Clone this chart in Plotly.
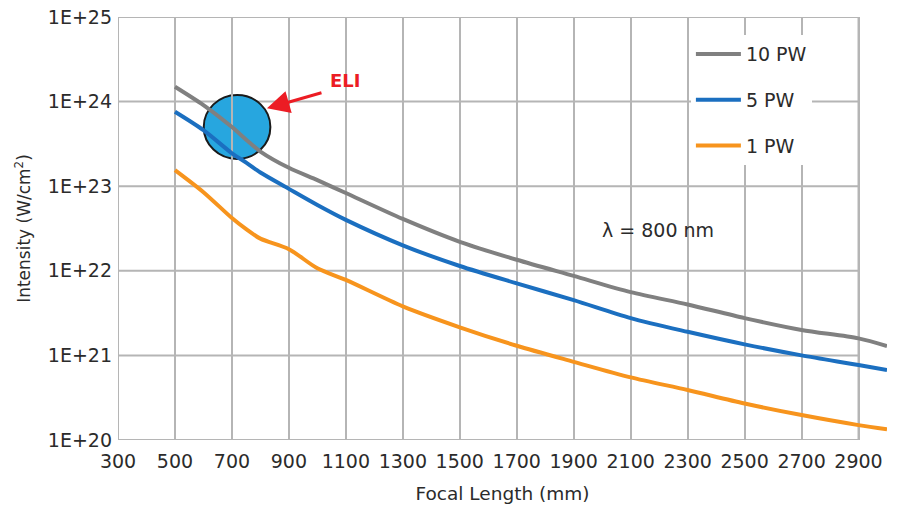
import plotly.graph_objects as go

# ---------------- data ----------------
focal_mm = [500, 600, 700, 750, 800, 900, 1000, 1100, 1300, 1500, 1700, 1900, 2100, 2300, 2500, 2700, 2900, 3000]
pw10 = [1.5e24, 9.1e23, 5.0e23, 3.55e23, 2.57e23, 1.65e23, 1.18e23, 8.3e22, 4.1e22, 2.2e22, 1.35e22, 8.7e21, 5.6e21, 4.0e21, 2.76e21, 2.0e21, 1.59e21, 1.29e21]
pw5 = [7.6e23, 4.6e23, 2.45e23, 1.9e23, 1.45e23, 9.3e22, 6.0e22, 4.0e22, 2.0e22, 1.14e22, 7.1e21, 4.5e21, 2.76e21, 1.9e21, 1.35e21, 1.0e21, 7.7e20, 6.7e20]
pw1 = [1.55e23, 8.5e22, 4.2e22, 3.1e22, 2.4e22, 1.8e22, 1.07e22, 7.8e21, 3.8e21, 2.15e21, 1.3e21, 8.4e20, 5.5e20, 3.9e20, 2.7e20, 1.97e20, 1.5e20, 1.34e20]

series_names = ["10 PW", "5 PW", "1 PW"]
series_colors = ["#808080", "#1b6fc0", "#f7941d"]

x_ticks = [300, 500, 700, 900, 1100, 1300, 1500, 1700, 1900, 2100, 2300, 2500, 2700, 2900]
y_ticks = [1e20, 1e21, 1e22, 1e23, 1e24, 1e25]
y_ticktext = ["1E+20", "1E+21", "1E+22", "1E+23", "1E+24", "1E+25"]

# ELI marker (focal length, intensity) and radii
eli_x = 718
eli_y = 10 ** 23.70
eli_rx = 117
eli_ry_dec = 0.378

FONT = "DejaVu Sans"
TXT = "#2b2b2b"
GRID = "#b5b5b5"

fig = go.Figure()
for name, ys, col in zip(series_names, [pw10, pw5, pw1], series_colors):
    fig.add_trace(go.Scatter(
        x=focal_mm, y=ys, name=name, mode="lines",
        line=dict(color=col, width=4, shape="spline", smoothing=0.8),
        legendgroup=name,
    ))

shapes = []
# frame / grid lines that stop at 2900 like the reference frame
for yv in y_ticks:
    shapes.append(dict(type="line", xref="x", yref="y", x0=x_ticks[0], x1=x_ticks[-1],
                       y0=yv, y1=yv, line=dict(color=GRID, width=2), layer="below"))
for xv in (x_ticks[0], x_ticks[-1]):
    shapes.append(dict(type="line", xref="x", yref="y", x0=xv, x1=xv,
                       y0=y_ticks[0], y1=y_ticks[-1], line=dict(color=GRID, width=2), layer="below"))
# ELI circle
shapes.append(dict(type="circle", xref="x", yref="y",
                   x0=eli_x - eli_rx, x1=eli_x + eli_rx,
                   y0=eli_y / 10 ** eli_ry_dec, y1=eli_y * 10 ** eli_ry_dec,
                   fillcolor="#27a6df", line=dict(color="#1a1a1a", width=2), layer="below"))

annotations = [
    dict(x=823, y=23.92, xref="x", yref="y", text="", showarrow=True,
         ax=56, ay=-16, arrowhead=2, arrowsize=1.5, arrowwidth=3, arrowcolor="#ec1c24"),
    dict(x=1096, y=24.255, xref="x", yref="y", text="<b>ELI</b>", showarrow=False,
         font=dict(family=FONT, size=18, color="#ec1c24")),
    dict(x=2197, y=22.48, xref="x", yref="y", text="λ = 800 nm", showarrow=False,
         font=dict(family=FONT, size=19, color=TXT)),
]

fig.update_layout(
    width=900, height=514,
    margin=dict(l=118, r=13, t=17, b=74, autoexpand=False),
    paper_bgcolor="white", plot_bgcolor="white",
    font=dict(family=FONT, size=19, color=TXT),
    shapes=shapes, annotations=annotations,
    legend=dict(x=0.745, y=0.957, xanchor="left", yanchor="top",
                bgcolor="white", borderwidth=0, itemwidth=45,
                tracegroupgap=18, font=dict(family=FONT, size=19, color=TXT)),
    xaxis=dict(range=[300, 3000], tickvals=x_ticks, showgrid=True, gridcolor=GRID, gridwidth=2,
               zeroline=False, showline=False, ticks="", ticklabelstandoff=8,
               tickfont=dict(family=FONT, size=19, color=TXT),
               title=dict(text="Focal Length (mm)", standoff=16,
                          font=dict(family=FONT, size=18.5, color=TXT))),
    yaxis=dict(type="log", range=[20, 25], tickvals=y_ticks, ticktext=y_ticktext,
               showgrid=False, zeroline=False, showline=False, ticks="", ticklabelstandoff=5,
               tickfont=dict(family=FONT, size=19, color=TXT),
               title=dict(text="Intensity (W/cm<sup>2</sup>)", standoff=12,
                          font=dict(family=FONT, size=17, color=TXT))),
)

fig.write_html("out.html")
